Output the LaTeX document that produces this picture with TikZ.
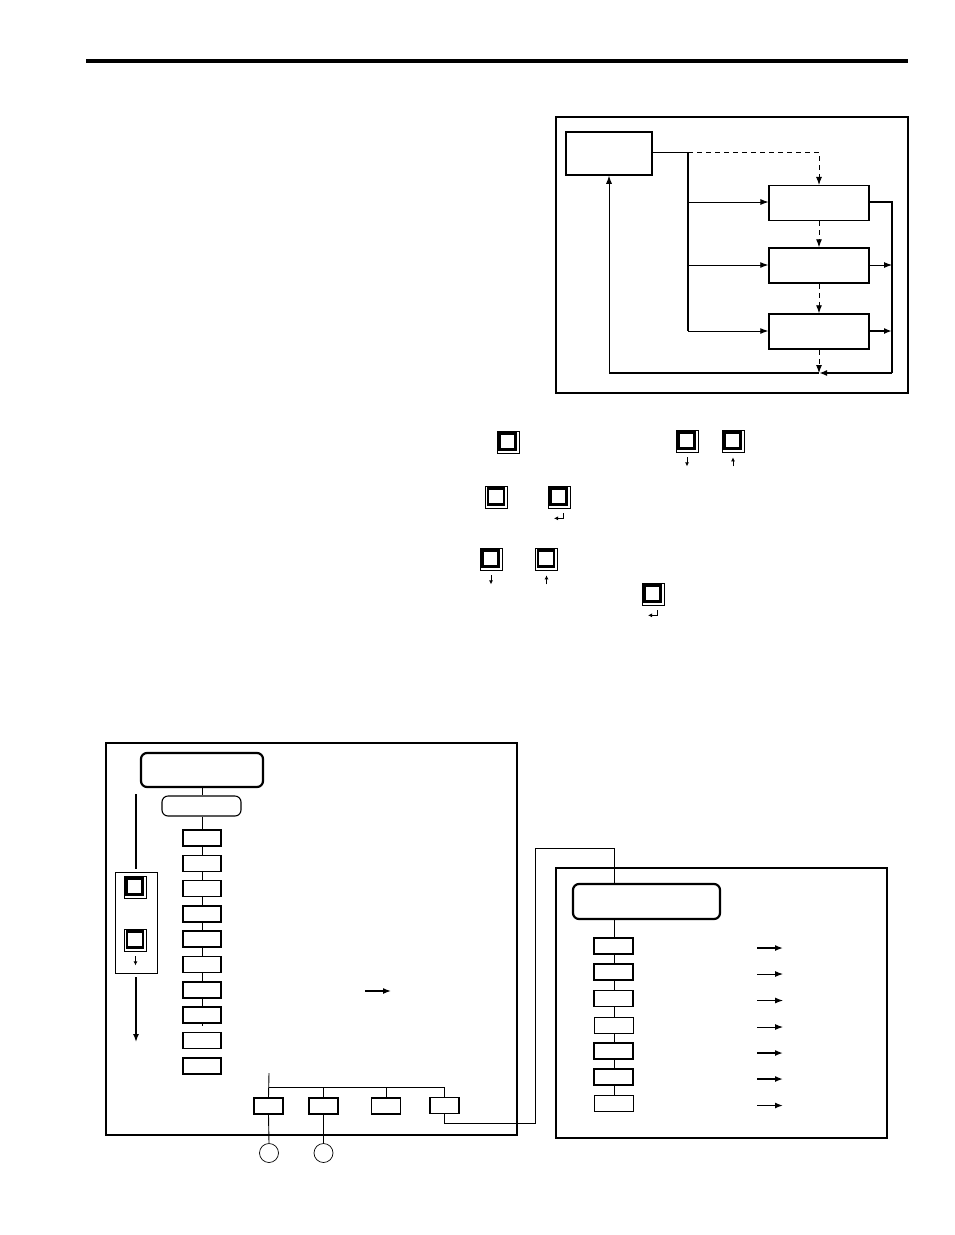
\documentclass[tikz,border=0pt]{standalone}
\usetikzlibrary{arrows.meta,calc}
\begin{document}
\begin{tikzpicture}[x=1pt,y=-1pt,
  thinl/.style={line width=0.9pt},
  thickl/.style={line width=1.7pt},
  tip/.style={-{Latex[length=8pt,width=6pt]}},
  fbox/.style={draw,line width=1.5pt,minimum width=86pt,minimum height=43pt,inner sep=0pt},
  sbox/.style={draw,line width=1.5pt,minimum width=100pt,minimum height=35pt,inner sep=0pt},
  lbox/.style={draw,line width=1.6pt,minimum width=38pt,minimum height=16pt,inner sep=0pt},
  rbox/.style={draw,line width=1.6pt,minimum width=39pt,minimum height=16pt,inner sep=0pt},
  bbox/.style={draw,line width=1.1pt,minimum width=29pt,minimum height=16pt,inner sep=0pt},
  btnout/.style={draw,line width=0.7pt,minimum size=22pt,inner sep=0pt},
  btnin/.style={draw,line width=2.2pt,minimum size=16pt,inner sep=0pt},
  circ/.style={draw,line width=0.7pt,circle,minimum size=19pt,inner sep=0pt},
  dsh/.style={dash pattern=on 5pt off 4pt}]
\useasboundingbox (0,0) rectangle (954,1235);
\newcommand\kbtn[3]{\node[btnout] (#1) at (#2,#3) {};\node[btnin] (#1i) at ($(#1)+(-0.5,-0.5)$) {};}
\newcommand\dnarr[1]{\draw[line width=0.9pt,-{Latex[length=4pt,width=4pt]}] ($(#1.south)+(0,5)$) -- ($(#1.south)+(0,14)$);}
\newcommand\uparr[1]{\draw[line width=0.9pt,-{Latex[length=4pt,width=4pt]}] ($(#1.south)+(0,14)$) -- ($(#1.south)+(0,5)$);}
\newcommand\entarr[1]{\draw[line width=0.9pt,-{Latex[length=4pt,width=4pt]}] ($(#1.south)+(4,5)$) -- ($(#1.south)+(4,10)$) -- ($(#1.south)+(-5,10)$);}

% header rule
\coordinate (h1) at (86,61); \coordinate (h2) at (908,61);
\draw[line width=4pt] (h1) -- (h2);

% ---------- top-right flow ----------
\draw[line width=1.1pt] (556,117) rectangle (908,393);
\node[fbox] (A) at (609,153.5) {};
\node[sbox,line width=1.1pt] (B) at (819,203) {};
\node[sbox] (C) at (819,265.5) {};
\node[sbox] (D) at (819,331.5) {};
\coordinate (j0) at (688,152);
\coordinate (j1) at (688,202);
\coordinate (j2) at (688,265);
\coordinate (j3) at (688,331);
\coordinate (dk) at (819,152);
\coordinate (r0) at (892,202);
\coordinate (r1) at (892,265);
\coordinate (r2) at (892,331);
\coordinate (r3) at (892,373);
\coordinate (m3) at (819,373);
\coordinate (l3) at (609,373);
\draw[thinl] (A.east |- j0) -- (j0);
\draw[thinl,dsh,tip] (j0) -- (dk) -- (B.north);
\draw[thickl] (j0) -- (j3);
\draw[thinl,tip] (j1) -- (B.west |- j1);
\draw[thinl,tip] (j2) -- (C.west |- j2);
\draw[thinl,tip] (j3) -- (D.west |- j3);
\draw[thinl,dsh,tip] (B.south) -- (C.north);
\draw[thinl,dsh,tip] (C.south) -- (D.north);
\draw[thinl,dsh,tip] (D.south) -- (m3);
\draw[thickl] (B.east |- r0) -- (r0) -- (r3);
\draw[thickl,tip] (r3) -- (m3);
\draw[thickl] (m3) -- (l3);
\draw[thinl,tip] (l3) -- (A.south);
\draw[thinl,tip] (C.east |- r1) -- (r1);
\draw[thickl,tip] (D.east |- r2) -- (r2);

% ---------- buttons ----------
\kbtn{k1}{508}{442}
\kbtn{k2}{687}{441}
\kbtn{k3}{733}{441}
\dnarr{k2}
\uparr{k3}
\kbtn{k4}{496.5}{497}
\kbtn{k5}{559}{497}
\entarr{k5}
\kbtn{k6}{491}{559}
\kbtn{k7}{546.5}{559}
\dnarr{k6}
\uparr{k7}
\kbtn{k8}{653}{594}
\entarr{k8}

% ---------- bottom-left menu ----------
\draw[line width=1.1pt] (106,743) rectangle (517,1135);
\node[draw,line width=2.2pt,rounded corners=6pt,minimum width=122pt,minimum height=34pt,inner sep=0pt] (M) at (202,770) {};
\node[draw,line width=1.1pt,rounded corners=6pt,minimum width=79pt,minimum height=20pt,inner sep=0pt] (S) at (201.5,806) {};
\draw[thinl] (M.south -| 202,0) -- (S.north -| 202,0);
\foreach \i in {1,...,10} {
  \node[lbox] (L\i) at (202,{812.7+25.3*\i}) {};
}
\draw[thinl] (S.south -| L1.north) -- (L1.north);
\foreach \i [evaluate=\i as \j using int(\i+1)] in {1,...,7} {
  \draw[thinl] (L\i.south) -- (L\j.north);
}
\coordinate (stub) at (202,1026);
\draw[thinl] (L8.south) -- (stub);

% left key panel
\coordinate (v0) at (136,794);
\coordinate (v1) at (136,869);
\draw[line width=1.5pt] (v0) -- (v1);
\node[draw,line width=0.9pt,minimum width=42pt,minimum height=101pt,inner sep=0pt] (P) at (136,922.5) {};
\kbtn{p1}{135}{887}
\kbtn{p2}{135.5}{940}
\dnarr{p2}
\coordinate (v2) at (136,977);
\coordinate (v3) at (136,1042);
\draw[line width=1.5pt,-{Latex[length=8pt,width=6pt]}] (v2) -- (v3);

% middle arrow
\coordinate (ma) at (365,991); \coordinate (mb) at (391,991);
\draw[line width=1.4pt,-{Latex[length=8pt,width=6pt]}] (ma) -- (mb);

% bottom branch
\node[bbox] (B1) at (268.5,1106) {};
\node[bbox] (B2) at (323.5,1106) {};
\node[bbox] (B3) at (386,1106) {};
\node[bbox] (B4) at (444.5,1105.5) {};
\coordinate (t0) at (269,1073);
\coordinate (t1) at (269,1087);
\coordinate (t2) at (323.5,1087);
\coordinate (t3) at (386,1087);
\coordinate (t4) at (444,1087);
\draw[thinl] (t0) -- (B1.north);
\draw[thinl] (t1) -- (t4) -- (B4.north -| t4);
\draw[thinl] (t2) -- (B2.north);
\draw[thinl] (t3) -- (B3.north);
\node[circ] (c1) at (269,1153) {};
\node[circ] (c2) at (323.5,1153) {};
\draw[thinl] (B1.south) -- (c1.north);
\draw[thinl] (B2.south) -- (c2.north);

% link to right menu
\coordinate (w1) at (444,1123);
\coordinate (w2) at (535,1123);
\coordinate (w3) at (535,848);
\coordinate (w4) at (614,848);

% ---------- bottom-right menu ----------
\draw[line width=1.1pt] (556,868) rectangle (887,1138);
\node[draw,line width=2.2pt,rounded corners=6pt,minimum width=147pt,minimum height=35pt,inner sep=0pt] (R) at (646.5,901.5) {};
\draw[thinl] (B4.south -| w1) -- (w1) -- (w2) -- (w3) -- (w4) -- (R.north -| w4);
\foreach \i/\y/\w in {1/946/1.6,2/972/1.6,3/998.5/1.6,4/1025/1.0,5/1051/1.6,6/1077/1.6,7/1103.5/1.0} {
  \node[rbox,line width=\w pt] (Q\i) at (613.5,\y) {};
  \coordinate (qa\i) at (757,{\y+2});
  \coordinate (qb\i) at (783,{\y+2});
}
\draw[thinl] (R.south -| 614,0) -- (Q1.north -| 614,0);
\foreach \i [evaluate=\i as \j using int(\i+1)] in {1,...,6} {
  \draw[thinl] (Q\i.south -| 614,0) -- (Q\j.north -| 614,0);
}
\foreach \i/\w in {1/1.5,2/1.0,3/1.0,4/1.0,5/1.5,6/1.5,7/1.5} {
  \draw[line width=\w pt,-{Latex[length=8pt,width=6pt]}] (qa\i) -- (qb\i);
}
\end{tikzpicture}
\end{document}
